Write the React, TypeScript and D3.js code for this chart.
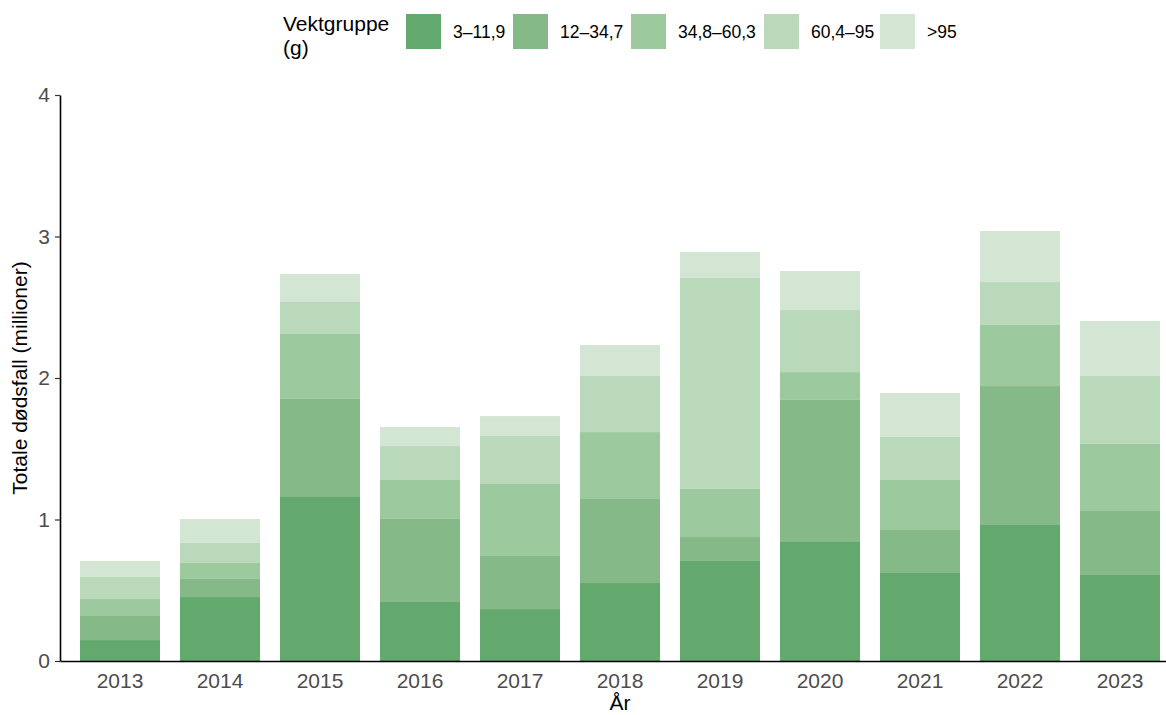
import React, { useRef, useEffect } from 'react'
import * as d3 from 'd3'

const years = ['2013', '2014', '2015', '2016', '2017', '2018', '2019', '2020', '2021', '2022', '2023']
const groups = ['3–11,9', '12–34,7', '34,8–60,3', '60,4–95', '>95']
const colors = ['#63a86c', '#86b988', '#9dc99f', '#b9d9ba', '#d3e6d4']

// millioner per vektgruppe, from bottom to top
const g1 = [0.148, 0.452, 1.159, 0.417, 0.367, 0.551, 0.707, 0.841, 0.622, 0.961, 0.608]
const g2 = [0.17, 0.128, 0.693, 0.587, 0.375, 0.594, 0.169, 1.004, 0.304, 0.982, 0.452]
const g3 = [0.12, 0.113, 0.459, 0.275, 0.509, 0.473, 0.34, 0.197, 0.353, 0.432, 0.474]
const g4 = [0.156, 0.141, 0.226, 0.24, 0.339, 0.396, 1.491, 0.439, 0.304, 0.303, 0.48]
const g5 = [0.113, 0.169, 0.198, 0.135, 0.141, 0.219, 0.183, 0.275, 0.311, 0.361, 0.389]

const yTicks = [0, 1, 2, 3, 4]

const App = () => {
	const svgRef = useRef(null)

	useEffect(() => {
		const svg = d3.select(svgRef.current)
		svg.selectAll('*').remove()

		const font = 'Liberation Sans, Arial, Helvetica, sans-serif'
		// the plot runs a little past the right edge of the picture
		const margin = { top: 95, right: -14, bottom: 54, left: 60 }
		const width = 1166, height = 715

		const rows = years.map((yr, i) => ({
			year: yr,
			[groups[0]]: g1[i],
			[groups[1]]: g2[i],
			[groups[2]]: g3[i],
			[groups[3]]: g4[i],
			[groups[4]]: g5[i],
		}))

		const x = d3.scaleBand().domain(years).range([margin.left, width - margin.right]).padding(0.2)
		const y = d3.scaleLinear().domain([0, 4]).range([height - margin.bottom, margin.top])
		const color = d3.scaleOrdinal().domain(groups).range(colors)

		const stacked = d3.stack().keys(groups)(rows)

		svg.append('g')
			.selectAll('g')
			.data(stacked)
			.join('g')
			.attr('fill', (d) => color(d.key))
			.selectAll('rect')
			.data((d) => d)
			.join('rect')
			.attr('x', (d) => x(d.data.year))
			.attr('width', x.bandwidth())
			.attr('y', (d) => y(d[1]))
			.attr('height', (d) => y(d[0]) - y(d[1]))

		// y axis
		const yAxis = svg.append('g')
			.attr('transform', `translate(${margin.left},0)`)
			.call(d3.axisLeft(y).tickValues(yTicks).tickFormat(d3.format('d')).tickSize(5).tickSizeOuter(0).tickPadding(5))
		yAxis.select('.domain').attr('stroke', '#000').attr('stroke-width', 1.6)
		yAxis.selectAll('.tick line').attr('stroke', '#333').attr('stroke-width', 1.2)
		yAxis.selectAll('.tick text')
			.attr('fill', '#4d4d4d')
			.style('font-size', '21px')
			.style('font-family', font)

		// x axis
		const xAxis = svg.append('g')
			.attr('transform', `translate(0,${height - margin.bottom})`)
			.call(d3.axisBottom(x).tickSize(0).tickSizeOuter(0).tickPadding(12))
		xAxis.select('.domain').attr('stroke', '#000').attr('stroke-width', 1.6)
		xAxis.selectAll('.tick text')
			.attr('fill', '#4d4d4d')
			.style('font-size', '21px')
			.style('font-family', font)

		svg.append('text')
			.attr('x', 620)
			.attr('y', 710)
			.attr('text-anchor', 'middle')
			.style('font-size', '21px')
			.style('font-family', font)
			.text('År')

		svg.append('text')
			.attr('transform', `translate(27,${(margin.top + height - margin.bottom) / 2}) rotate(-90)`)
			.attr('text-anchor', 'middle')
			.style('font-size', '21px')
			.style('font-family', font)
			.text('Totale dødsfall (millioner)')

		// legend
		const legend = svg.append('g')
		legend.append('text')
			.attr('x', 283)
			.attr('y', 31)
			.style('font-size', '21px')
			.style('font-family', font)
			.text('Vektgruppe')
		legend.append('text')
			.attr('x', 283)
			.attr('y', 55)
			.style('font-size', '21px')
			.style('font-family', font)
			.text('(g)')

		const keyX = [406, 513, 631, 764, 880]
		groups.forEach((g, i) => {
			legend.append('rect')
				.attr('x', keyX[i])
				.attr('y', 14)
				.attr('width', 35)
				.attr('height', 35)
				.attr('fill', color(g))
			legend.append('text')
				.attr('x', keyX[i] + 47)
				.attr('y', 38)
				.style('font-size', '17.5px')
				.style('font-family', font)
				.text(g)
		})
	}, [])

	return (
		<svg
			ref={svgRef}
			width={1166}
			height={715}
			style={{ position: 'absolute', left: 0, top: 0, background: '#fff' }}
		></svg>
	)
}

export default App
